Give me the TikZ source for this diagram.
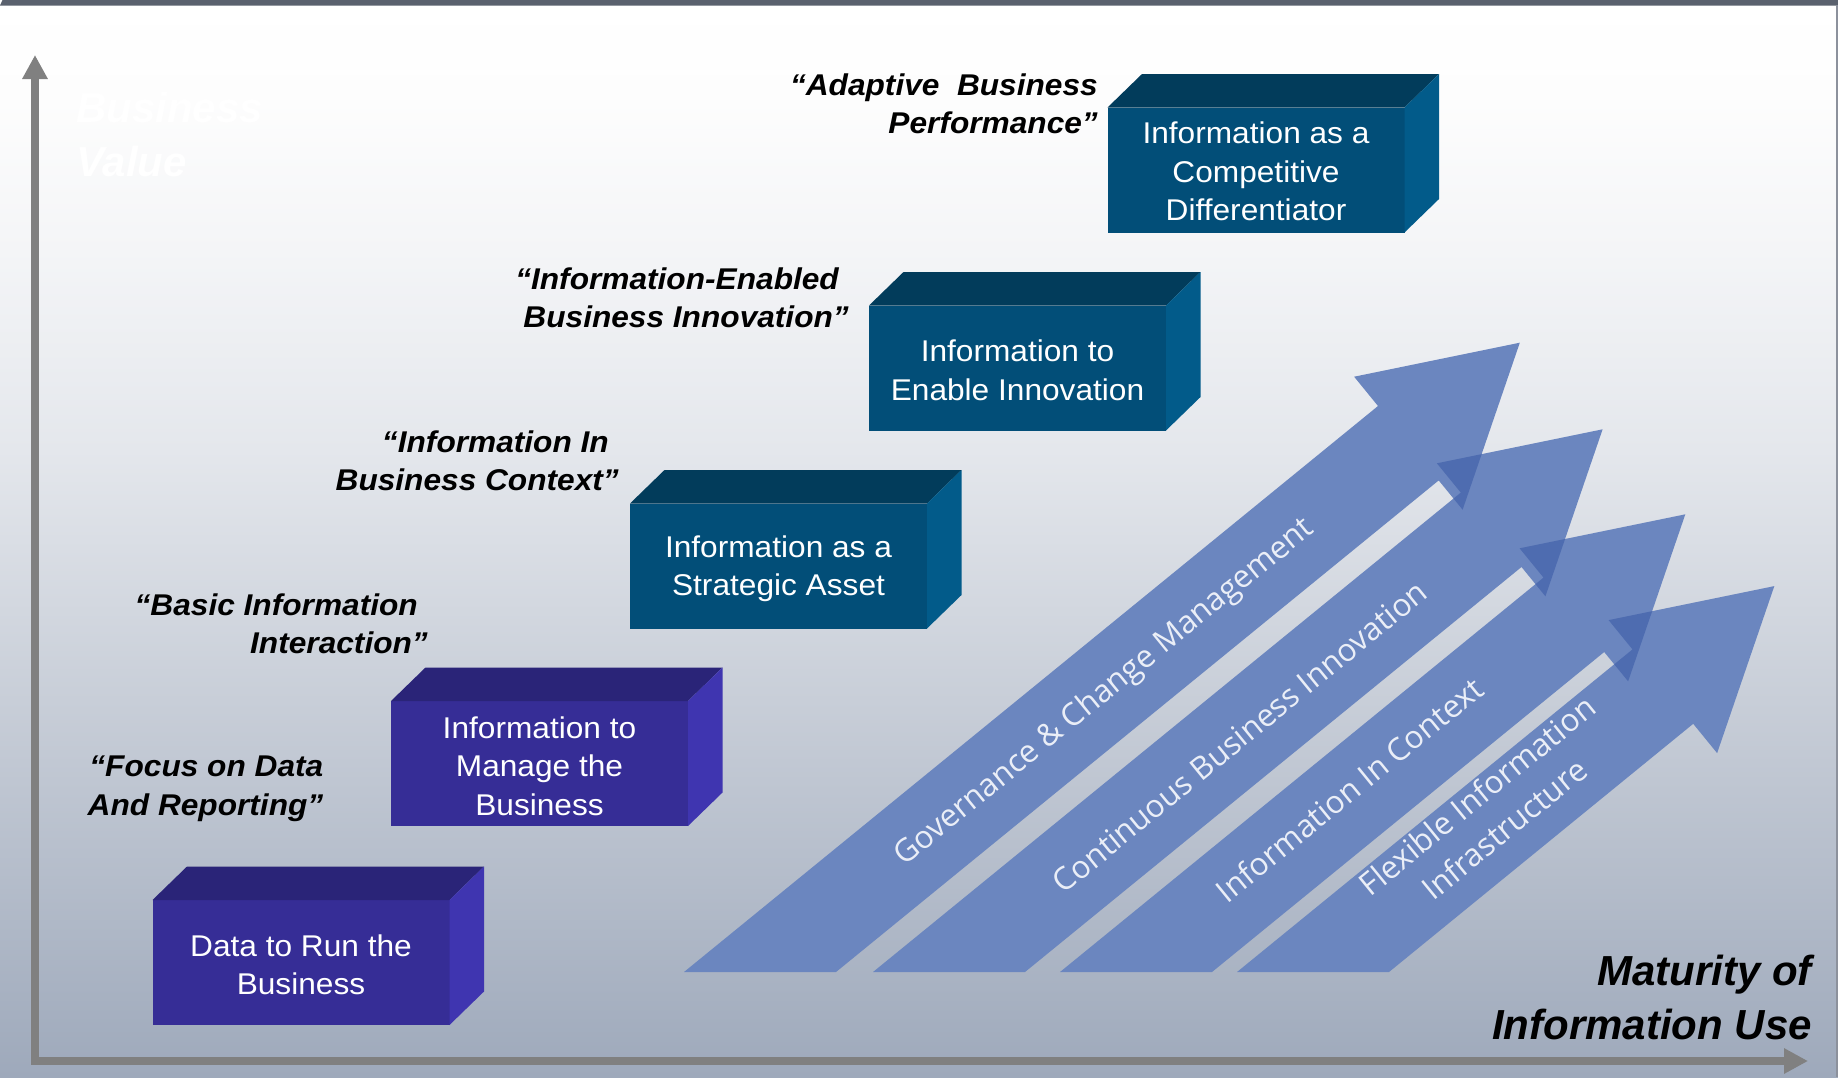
\documentclass[tikz,border=0pt]{standalone}
\usepackage{fontspec}
\setmainfont{Liberation Sans}
\newfontfamily\boxfont{Liberation Sans}[FakeStretch=1.055]
\newfontfamily\arrowfont{Open Sans}
\usetikzlibrary{arrows.meta,calc}
\definecolor{bgA}{RGB}{253,253,253}
\definecolor{bgB}{RGB}{244,245,247}
\definecolor{bgC}{RGB}{228,231,236}
\definecolor{bgD}{RGB}{200,206,216}
\definecolor{bgE}{RGB}{158,169,187}
\definecolor{bandC}{RGB}{90,97,110}
\definecolor{edgeC}{RGB}{140,145,156}
\definecolor{axisC}{RGB}{128,128,128}
\definecolor{purpF}{RGB}{54,45,150}
\definecolor{purpT}{RGB}{42,36,120}
\definecolor{purpS}{RGB}{63,53,176}
\definecolor{tealF}{RGB}{2,78,120}
\definecolor{tealT}{RGB}{2,60,91}
\definecolor{tealS}{RGB}{2,91,138}
\definecolor{arrF}{RGB}{107,134,191}
\definecolor{arrD}{RGB}{78,108,176}
\definecolor{arrT}{RGB}{234,238,247}
\pgfdeclareverticalshading{bgshade}{100bp}{color(0bp)=(bgE); color(25bp)=(bgE); color(42.5bp)=(bgD); color(54.11bp)=(bgC); color(63.39bp)=(bgB); color(70.36bp)=(bgA); color(75bp)=(white); color(100bp)=(white)}
\tikzset{
  boxfront/.style={rectangle, inner sep=0pt, outer sep=0pt, minimum width=297pt, minimum height=125pt},
  purplefront/.style={boxfront, fill=purpF},
  tealfront/.style={boxfront, fill=tealF},
  boxtext/.style={inner sep=0pt, text=white, align=center, font=\boxfont\fontsize{30}{38.5}\selectfont},
  quotetext/.style={inner sep=0pt, align=right, anchor=east, text=black, font=\boxfont\bfseries\itshape\fontsize{30}{38.5}\selectfont},
  axislabel/.style={inner sep=0pt, font=\bfseries\itshape\fontsize{42}{54}\selectfont},
  arrowtext/.style={inner sep=0pt, rotate=39.2, align=center, text=arrT, font=\arrowfont\fontsize{31.5}{43}\selectfont},
  axisline/.style={draw=axisC, line width=8pt, line join=miter, {Triangle[length=24pt,width=24pt]}-{Triangle[length=24pt,width=24pt]}}
}
\newcommand\boxfaces[3]{%
  \fill[#2] (#1.north west) -- ++(34.5,-33.5) -- ($(#1.north east)+(34.5,-33.5)$) -- (#1.north east) -- cycle;
  \fill[#3] (#1.north east) -- ++(34.5,-33.5) -- ($(#1.south east)+(34.5,-33.5)$) -- (#1.south east) -- cycle;}
\newcommand\pathGov{(684,972) -- (1378.0,406.0) -- (1354.1,376.7) -- (1519.8,342.7) -- (1462.6,509.7) -- (1438.7,480.4) -- (836,972) -- cycle}
\newcommand\pathCont{(873,972) -- (1460.8,492.6) -- (1436.9,463.3) -- (1602.6,429.3) -- (1545.4,596.3) -- (1521.5,567.0) -- (1025,972) -- cycle}
\newcommand\pathCtx{(1060,972) -- (1543.5,577.6) -- (1519.6,548.3) -- (1685.3,514.3) -- (1628.1,681.3) -- (1604.2,652.0) -- (1212,972) -- cycle}
\newcommand\pathFlex{(1237,972) -- (1632.5,649.4) -- (1608.6,620.1) -- (1774.3,586.1) -- (1717.1,753.1) -- (1693.2,723.8) -- (1389,972) -- cycle}
\begin{document}
\begin{tikzpicture}[x=1pt,y=-1pt]
\useasboundingbox (0,0) rectangle (1838,1077);
% background
\fill[shading=bgshade] (0,0) rectangle (1838,1077);
\fill[bandC] (2.5,0) -- (1838,0) -- (1838,5.5) -- (0,5.5) -- cycle;
\draw[edgeC, line width=1.5pt] (1836.8,5) -- (1836.8,1077);
% axes
\coordinate (ytip) at (35,55);
\coordinate (orig) at (35,1061);
\coordinate (xtip) at (1808,1061);
\draw[axisline] (ytip) -- (orig) -- (xtip);
\node[axislabel, anchor=west, align=left, text=white] (bv) at (76,134) {Business\\Value};
\node[axislabel, anchor=east, align=right, text=black] (mat) at (1812,997) {Maturity of\\Information Use};
% big arrows
\fill[arrF] \pathGov;
\fill[arrF] \pathCont;
\begin{scope}\clip \pathCont; \fill[arrD] \pathGov; \end{scope}
\fill[arrF] \pathCtx;
\begin{scope}\clip \pathCtx; \fill[arrD] \pathCont; \end{scope}
\fill[arrF] \pathFlex;
\begin{scope}\clip \pathFlex; \fill[arrD] \pathCtx; \end{scope}
\node[arrowtext] (tGov) at (1104.8,692.8) {Governance \& Change Management};
\node[arrowtext] (tCont) at (1239.6,736.7) {Continuous Business Innovation};
\node[arrowtext] (tCtx) at (1349.2,789.5) {Information In Context};
\node[arrowtext] (tFlex) at (1490.5,812) {Flexible Information\\Infrastructure};
% boxes
\node[purplefront] (b1) at (301,962.5) {};
\boxfaces{b1}{purpT}{purpS}
\node[boxtext] (b1t) at ([yshift=-2.5pt]b1.center) {Data to Run the\\Business};
\node[purplefront] (b2) at (539.5,763.5) {};
\boxfaces{b2}{purpT}{purpS}
\node[boxtext] (b2t) at ([yshift=-2.5pt]b2.center) {Information to\\Manage the\\Business};
\node[tealfront] (b3) at (778.5,566) {};
\boxfaces{b3}{tealT}{tealS}
\node[boxtext] (b3t) at ([yshift=-2.5pt]b3.center) {Information as a\\Strategic Asset};
\node[tealfront] (b4) at (1017.5,368) {};
\boxfaces{b4}{tealT}{tealS}
\node[boxtext] (b4t) at ([yshift=-2.5pt]b4.center) {Information to\\Enable Innovation};
\node[tealfront] (b5) at (1256,170) {};
\boxfaces{b5}{tealT}{tealS}
\node[boxtext] (b5t) at ([yshift=-1.5pt]b5.center) {Information as a\\Competitive\\Differentiator};
% quotes
\node[quotetext] (q1) at (1098,104) {“Adaptive\ \ Business\\Performance”};
\node[quotetext] (q2) at (849,298) {“Information-Enabled\kern10pt\\Business Innovation”};
\node[quotetext] (q3) at (619,461) {“Information In\kern10pt\\Business Context”};
\node[quotetext] (q4) at (428,624) {“Basic Information\kern10pt\\Interaction”};
\node[quotetext] (q5) at (323.5,789) {“Focus on Data\\And Reporting”};
\end{tikzpicture}
\end{document}
